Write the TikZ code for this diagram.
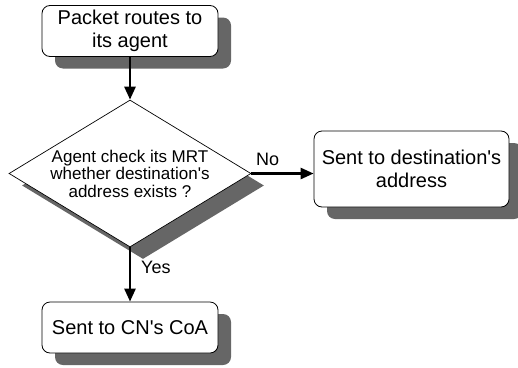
\documentclass[tikz,border=0pt]{standalone}
\usepackage{fontspec}
\setmainfont{Liberation Sans}
\usetikzlibrary{shapes.geometric,shadows,arrows.meta}

\newcommand{\apos}{\textquotesingle}

\tikzset{
  boxshadow/.style={drop shadow={shadow xshift=13pt, shadow yshift=-12pt,
      fill=black!60, opacity=1}},
  procbox/.style={draw=black, line width=0.8pt, fill=white, rounded corners=8pt,
      align=center, inner sep=0pt, boxshadow,
      font=\fontsize{20}{23}\selectfont},
  decision/.style={draw=black, line width=0.7pt, fill=white, diamond,
      aspect=1.646, inner sep=0pt, align=center, boxshadow,
      font=\fontsize{17}{17.5}\selectfont},
  flow/.style={line width=2.6pt, -{Triangle[length=13pt,width=11pt]}},
  branch/.style={font=\fontsize{18}{18}\selectfont, inner sep=0pt}
}

\begin{document}
\begin{tikzpicture}[x=1pt, y=-1pt]
  \useasboundingbox (0,0) rectangle (518,367);

  % process steps
  \node[procbox, minimum width=176pt, minimum height=51pt] (start) at (130,31)
    {Packet routes to\\its agent};
  \node[decision, minimum width=242pt, minimum height=147pt] (check) at (130,173.5)
    {Agent check its MRT\\whether destination\apos s\\address exists ?};
  \node[procbox, minimum width=195pt, minimum height=76pt] (dest) at (411.5,169)
    {Sent to destination\apos s\\address};
  \node[procbox, minimum width=176pt, minimum height=51pt] (coa) at (130,327.5)
    {Sent to CN\apos s CoA};

  % connectors
  \draw[flow] (start.south) -- (check.north);
  \draw[flow] (check.east) -- (check.east -| dest.west);
  \draw[flow] (check.south) -- (coa.north);

  % branch labels
  \node[branch, anchor=base west] (no) at (256,165) {No};
  \node[branch, anchor=base west] (yes) at (141,273) {Yes};
\end{tikzpicture}
\end{document}
